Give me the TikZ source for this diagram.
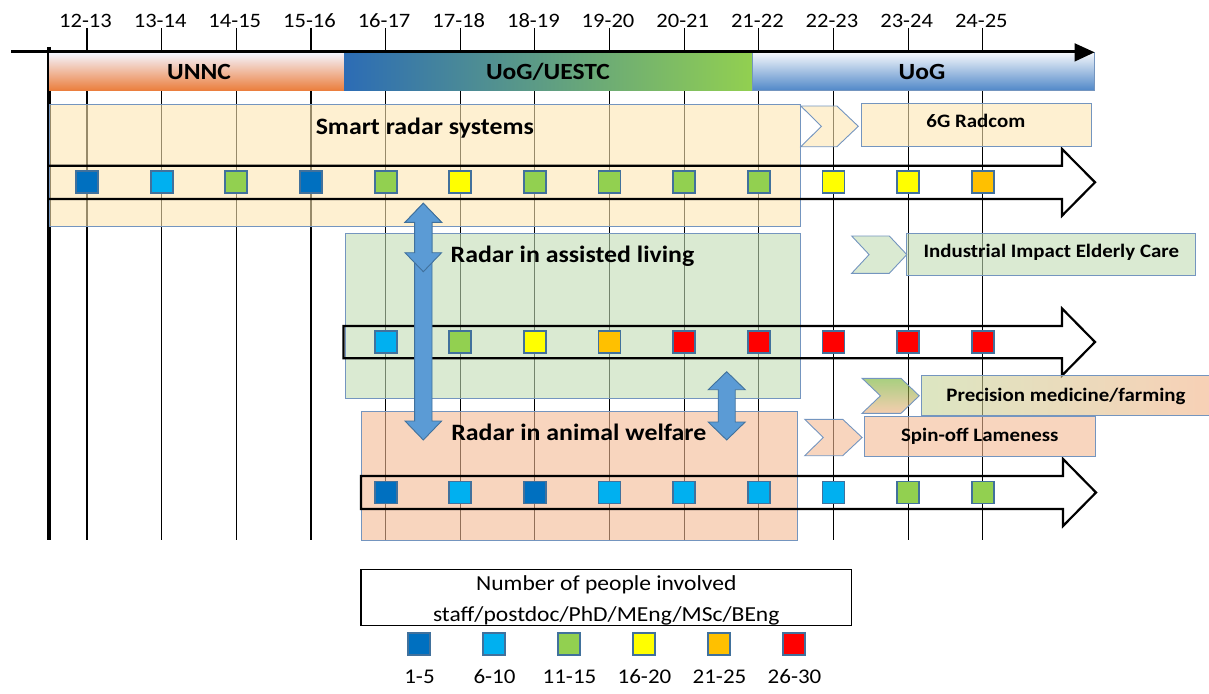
\documentclass[tikz,border=0pt]{standalone}
\usepackage{fontspec}
\setmainfont{Carlito}
\usepackage{graphicx}

% marker colours (number of people)
\definecolor{c1}{HTML}{0070C0}
\definecolor{c2}{HTML}{00B0F0}
\definecolor{c3}{HTML}{92D050}
\definecolor{c4}{HTML}{FFFF00}
\definecolor{c5}{HTML}{FFC000}
\definecolor{c6}{HTML}{FF0000}
\definecolor{sqedge}{HTML}{41719C}
\definecolor{boxedge}{HTML}{7495BF}
% translucent panel fills (tick lines show through)
\definecolor{sandfill}{HTML}{FDE6B2}
\definecolor{sagefill}{HTML}{C1DCB4}
\definecolor{peachfill}{HTML}{F3B993}
\definecolor{arrowblue}{HTML}{5B9BD5}
\definecolor{arrowedge}{HTML}{41719C}

\newcommand{\wx}[1]{\scalebox{1.1}[1]{#1}}

\begin{document}
\begin{tikzpicture}[x=1pt,y=-1pt,
  tick/.style={line width=1.1pt, black},
  stxt/.style={inner sep=0pt, text depth=0pt},
  yr/.style={stxt, font=\fontsize{20.5}{24}\selectfont, text height=12.95pt},
  barlbl/.style={stxt, font=\fontsize{23.2}{27}\selectfont\bfseries, text height=14.7pt},
  bigb/.style={stxt, font=\fontsize{23.5}{28}\selectfont\bfseries, text height=14.85pt},
  smallb/.style={stxt, font=\fontsize{19}{23}\selectfont\bfseries, text height=12pt},
  lgtxt/.style={stxt, font=\fontsize{21.4}{25}\selectfont, text height=13.5pt},
  lgl/.style={stxt, font=\fontsize{20.9}{25}\selectfont, text height=13.2pt},
  panel/.style={draw=boxedge, line width=0.9pt, fill opacity=0.6},
  openarrow/.style={draw=black, line width=2.2pt, line join=miter},
  sq/.style={draw=sqedge, line width=1.8pt, minimum size=22pt, inner sep=0pt},
  dar/.style={draw=arrowedge, line width=0.9pt, fill=arrowblue, line join=miter},
]
\useasboundingbox (0,0) rectangle (1209,693);
\clip (0,0) rectangle (1209,693);

% year labels and tick lines
\foreach \i/\lab in {0/12-13,1/13-14,2/14-15,3/15-16,4/16-17,5/17-18,6/18-19,
                     7/19-20,8/20-21,9/21-22,10/22-23,11/23-24,12/24-25} {
  \pgfmathsetmacro\xx{87+74.65*\i}
  \node[yr] (yr\i) at (\xx-1.5,21.2) {\wx{\lab}};
  \coordinate (tb\i) at (\xx,540);
  \draw[tick] (yr\i.south -| tb\i) -- (tb\i);
}

% left axis
\draw[line width=4pt] (49,47) -- (49,540);

% project panels
\draw[panel, fill=sandfill]  (49,104.5) rectangle (800,226.5);
\draw[panel, fill=sagefill]  (345,233.3) rectangle (800,398.3);
\draw[panel, fill=peachfill] (361,411) rectangle (797,540);

% institution bars
\fill[top color=white!96!blue, middle color=orange!30!white, bottom color={rgb,255:red,235;green,125;blue,59}]
  (49,52.7) rectangle (344,90.7);
\fill[left color={rgb,255:red,44;green,108;blue,181}, right color=c3]
  (344,52.7) rectangle (752.6,90.7);
\draw[draw=boxedge, line width=0.8pt, top color={rgb,255:red,244;green,247;blue,251},
      middle color={rgb,255:red,191;green,210;blue,236}, bottom color={rgb,255:red,79;green,135;blue,200}]
  (752.6,52.7) rectangle (1094,90.7);
\node[barlbl] (unnc) at (199,71.7) {\wx{UNNC}};
\node[barlbl] (uestc) at (548,71.7) {\wx{UoG/UESTC}};
\node[barlbl] (uog) at (922,71.7) {\wx{UoG}};

% time axis
\draw[line width=3pt] (11,51.5) -- (1076,51.5);
\fill (1074.6,43.2) -- (1094.5,52.3) -- (1074.6,61.6) -- cycle;

% open row arrows
\draw[openarrow] (49,165.7) -- (1062,165.7) -- (1062,149) -- (1095,182.3)
  -- (1062,215.7) -- (1062,199) -- (49,199);
\draw[openarrow] (343.5,326) -- (1062,326) -- (1062,308.5) -- (1095,342)
  -- (1062,375.5) -- (1062,358.3) -- (343.5,358.3) -- cycle;
\draw[openarrow] (361,476) -- (1063,476) -- (1063,459) -- (1096,492.5)
  -- (1063,526) -- (1063,509) -- (361,509) -- cycle;

% markers: smart radar systems
\foreach \i/\c in {0/c1,1/c2,2/c3,3/c1,4/c3,5/c4,6/c3,7/c3,8/c3,9/c3,10/c4,11/c4,12/c5}
  \node[sq, fill=\c] (sa\i) at ({87+74.65*\i},182.3) {};
% markers: radar in assisted living
\foreach \i/\c in {4/c2,5/c3,6/c4,7/c5,8/c6,9/c6,10/c6,11/c6,12/c6}
  \node[sq, fill=\c] (al\i) at ({87+74.65*\i},341.8) {};
% markers: radar in animal welfare
\foreach \i/\c in {4/c1,5/c2,6/c1,7/c2,8/c2,9/c2,10/c2,11/c3,12/c3}
  \node[sq, fill=\c] (aw\i) at ({87+74.65*\i},492.5) {};

% panel titles
\node[bigb] (srs) at (424.8,126.7) {\wx{Smart radar systems}};
\node[bigb] (ral) at (572.5,254.8) {\wx{Radar in assisted living}};
\node[bigb] (raw) at (578.8,432.7) {\wx{Radar in animal welfare}};

% links between research lines
\draw[dar] (423.3,203.3) -- (441.6,222.3) -- (432,222.3) -- (432,421) -- (441.6,421)
  -- (423.3,440) -- (405,421) -- (414.6,421) -- (414.6,222.3) -- (405,222.3) -- cycle;
\draw[dar] (423.3,203.3) -- (441.6,222.3) -- (432,222.3) -- (432,252.7) -- (441.6,252.7)
  -- (423.3,271.7) -- (405,252.7) -- (414.6,252.7) -- (414.6,222.3) -- (405,222.3) -- cycle;
\draw[dar] (726.7,371.7) -- (745.2,389.7) -- (735.2,389.7) -- (735.2,422) -- (745.2,422)
  -- (726.7,440) -- (708.2,422) -- (718.2,422) -- (718.2,389.7) -- (708.2,389.7) -- cycle;

% outcome chevrons
\draw[panel, fill=sandfill] (800.8,106) -- (836.9,106) -- (858.3,126.3) -- (836.9,146.7)
  -- (800.8,146.7) -- (821.4,126.3) -- cycle;
\draw[panel, fill=sagefill] (851.7,236) -- (889.3,236) -- (906.8,254.6) -- (889.3,273.3)
  -- (851.7,273.3) -- (869.1,254.6) -- cycle;
\draw[panel, top color={rgb,255:red,110;green,175;blue,42}, bottom color={rgb,255:red,238;green,172;blue,122}]
  (862.1,378.3) -- (901,378.3) -- (919.2,395.8) -- (901,413.3)
  -- (862.1,413.3) -- (880.4,395.8) -- cycle;
\draw[panel, fill=peachfill] (804.7,419.3) -- (842.7,419.3) -- (862.1,437.5) -- (842.7,455.7)
  -- (804.7,455.7) -- (823.3,437.5) -- cycle;

% outcome boxes
\draw[panel, fill=sandfill] (861,103) rectangle (1091.6,146.7);
\node[smallb] (radcom) at (975.8,121.7) {\wx{6G Radcom}};
\draw[panel, fill=sagefill] (906.8,233.3) rectangle (1195.3,275.7);
\node[smallb] (elder) at (1051.3,251.7) {\wx{Industrial Impact Elderly Care}};
\draw[panel, left color={rgb,255:red,197;green,213;blue,153}, right color={rgb,255:red,243;green,177;blue,133}]
  (921.6,375.3) rectangle (1215,415);
\node[smallb] (precis) at (1066,395.7) {\wx{Precision medicine/farming}};
\draw[panel, fill=peachfill] (864.9,416.7) rectangle (1095,456.7);
\node[smallb] (spin) at (979.8,435) {\wx{Spin-off Lameness}};

% legend
\node[draw=black, line width=1.3pt, minimum width=490.7pt, minimum height=56.4pt, inner sep=0pt]
  (legend) at (606.3,597.5) {};
\node[lgtxt] (lg1) at (606.3,583.3) {\wx{Number of people involved}};
\node[lgtxt] (lg2) at (606.3,615) {\wx{staff/postdoc/PhD/MEng/MSc/BEng}};
\foreach \i/\c/\lab in {0/c1/1-5,1/c2/6-10,2/c3/11-15,3/c4/16-20,4/c5/21-25,5/c6/26-30} {
  \node[sq, fill=\c] (lq\i) at ({419+75*\i},644) {};
  \node[lgl] (ll\i) at ({419.5+75*\i},677) {\wx{\lab}};
}
\end{tikzpicture}
\end{document}
